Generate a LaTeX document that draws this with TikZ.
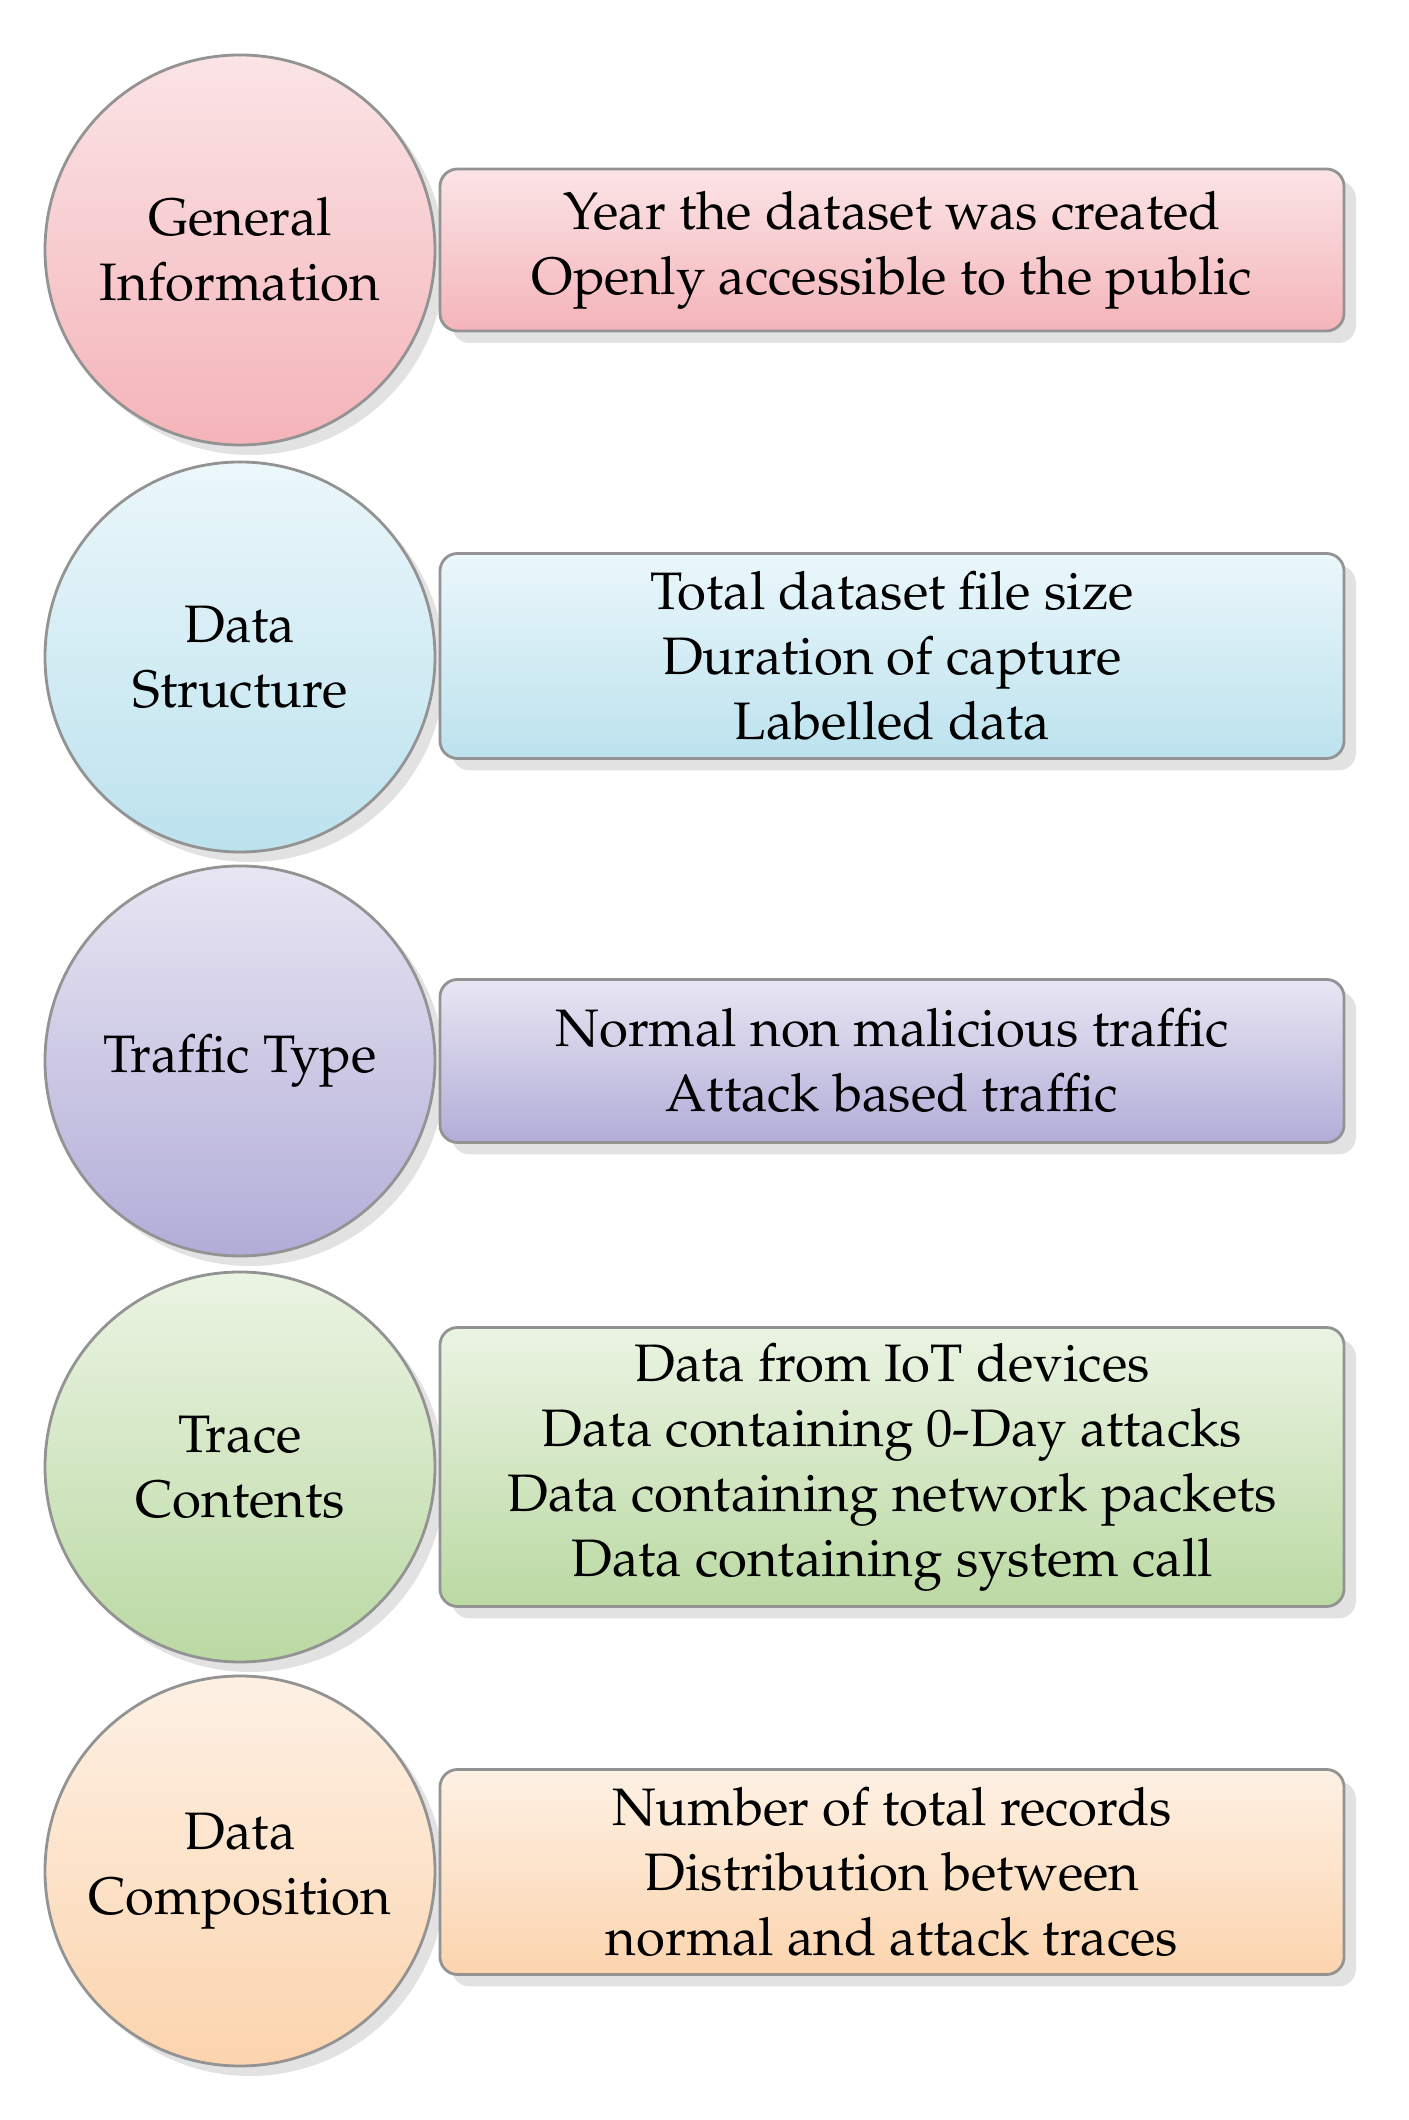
\documentclass[tikz,border=0pt]{standalone}
\usepackage[T1]{fontenc}
\usepackage{mathpazo}
\usepackage{xcolor}
\usetikzlibrary{shadows}
\definecolor{redT}{HTML}{FBE4E6}\definecolor{redB}{HTML}{F4B4B9}
\definecolor{bluT}{HTML}{EBF7FB}\definecolor{bluB}{HTML}{BCE2EE}
\definecolor{purT}{HTML}{E8E6F3}\definecolor{purB}{HTML}{B2ADD8}
\definecolor{grnT}{HTML}{EBF4E3}\definecolor{grnB}{HTML}{BBD9A3}
\definecolor{orgT}{HTML}{FDF1E4}\definecolor{orgB}{HTML}{FCD4AE}
\begin{document}
\begin{tikzpicture}[font=\fontsize{15}{18.5}\selectfont,
    cat/.style={circle,draw=gray!85,thick,minimum size=3.9cm,align=center,
      drop shadow={shadow xshift=0.1cm,shadow yshift=-0.1cm,fill=gray!45}},
    item/.style={draw=gray!85,thick,rounded corners=5pt,minimum width=9.04cm,align=center,
      drop shadow={shadow xshift=0.12cm,shadow yshift=-0.12cm,fill=gray!45}}]
  \useasboundingbox (0,0) rectangle (14.08,21.2);
  % categories
  \node (gen)  at (2.40,18.70) [cat,top color=redT,bottom color=redB] {General\\Information};
  \node (str)  at (2.40,14.63) [cat,top color=bluT,bottom color=bluB] {Data\\Structure};
  \node (trf)  at (2.40,10.59) [cat,top color=purT,bottom color=purB] {Traffic Type};
  \node (trc)  at (2.40,6.53)  [cat,top color=grnT,bottom color=grnB] {Trace\\Contents};
  \node (cmp)  at (2.40,2.49)  [cat,top color=orgT,bottom color=orgB] {Data\\Composition};
  % attributes
  \node (genI) at (8.92,18.70) [item,minimum height=1.62cm,top color=redT,bottom color=redB]
    {Year the dataset was created\\Openly accessible to the public};
  \node (strI) at (8.92,14.64) [item,minimum height=2.05cm,top color=bluT,bottom color=bluB]
    {Total dataset file size\\Duration of capture\\Labelled data};
  \node (trfI) at (8.92,10.59) [item,minimum height=1.63cm,top color=purT,bottom color=purB]
    {Normal non malicious traffic\\Attack based traffic};
  \node (trcI) at (8.92,6.53)  [item,minimum height=2.79cm,top color=grnT,bottom color=grnB]
    {Data from IoT devices\\Data containing 0-Day attacks\\Data containing network packets\\Data containing system call};
  \node (cmpI) at (8.92,2.48)  [item,minimum height=2.05cm,top color=orgT,bottom color=orgB]
    {Number of total records\\Distribution between\\normal and attack traces};
\end{tikzpicture}
\end{document}
